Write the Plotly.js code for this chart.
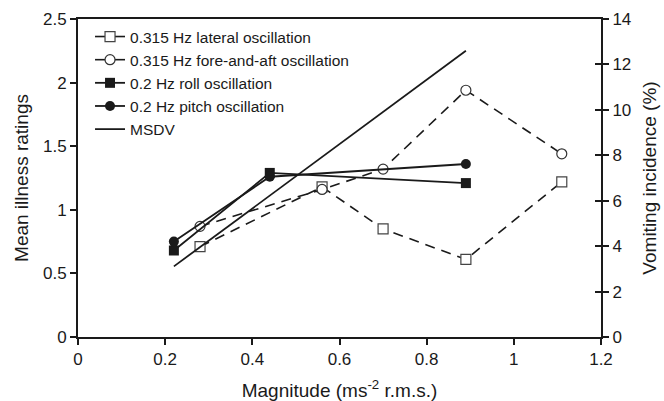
<!DOCTYPE html>
<html>
<head>
<meta charset="utf-8">
<script src="https://cdn.plot.ly/plotly-3.0.1.min.js"></script>
<style>html,body{margin:0;padding:0;background:#fff;}#chart{width:664px;height:401px;}</style>
</head>
<body>
<div id="chart"></div>
<script>
// Data
const lateralX = [0.28, 0.56, 0.70, 0.89, 1.11];
const lateralY = [0.71, 1.18, 0.85, 0.61, 1.22];
const foreAftX = [0.28, 0.56, 0.70, 0.89, 1.11];
const foreAftY = [0.87, 1.16, 1.32, 1.94, 1.44];
const rollX = [0.22, 0.44, 0.89];
const rollY = [0.68, 1.29, 1.21];
const pitchX = [0.22, 0.44, 0.89];
const pitchY = [0.75, 1.26, 1.36];
const msdvX = [0.22, 0.89];
const msdvY = [0.555, 2.25];
const seriesNames = ["0.315 Hz lateral oscillation", "0.315 Hz fore-and-aft oscillation",
  "0.2 Hz roll oscillation", "0.2 Hz pitch oscillation", "MSDV"];
const leftTicks = [0, 0.5, 1, 1.5, 2, 2.5];
const leftTickText = ["0", "0.5", "1", "1.5", "2", "2.5"];
const rightTicks = [0, 2, 4, 6, 8, 10, 12, 14];
const xTicks = [0, 0.2, 0.4, 0.6, 0.8, 1, 1.2];
const xTickText = ["0", "0.2", "0.4", "0.6", "0.8", "1", "1.2"];

const FONT = "Liberation Sans, Arial, Helvetica, sans-serif";
const INK = "#1a1a1a";
const dashPat = "10px,7px";

const traces = [
  // plotted series
  {x: lateralX, y: lateralY, mode: "lines+markers", showlegend: false,
   line: {color: INK, width: 1.6, dash: dashPat},
   marker: {symbol: "square", size: 10, color: "#fff", line: {color: "#444", width: 1.2}}},
  {x: foreAftX, y: foreAftY, mode: "lines+markers", showlegend: false,
   line: {color: INK, width: 1.6, dash: dashPat},
   marker: {symbol: "circle", size: 10, color: "#fff", line: {color: "#333", width: 1.2}}},
  {x: rollX, y: rollY, mode: "lines+markers", showlegend: false,
   line: {color: INK, width: 1.8},
   marker: {symbol: "square", size: 10, color: INK}},
  {x: pitchX, y: pitchY, mode: "lines+markers", showlegend: false,
   line: {color: INK, width: 1.8},
   marker: {symbol: "circle", size: 10, color: INK}},
  {x: msdvX, y: msdvY, mode: "lines", showlegend: false,
   line: {color: INK, width: 1.8}},
  // legend entries (solid lines as in the reference legend)
  {x: [null], y: [null], name: seriesNames[0], mode: "lines+markers",
   line: {color: INK, width: 1.6},
   marker: {symbol: "square", size: 10, color: "#fff", line: {color: "#444", width: 1.2}}},
  {x: [null], y: [null], name: seriesNames[1], mode: "lines+markers",
   line: {color: INK, width: 1.6},
   marker: {symbol: "circle", size: 10, color: "#fff", line: {color: "#333", width: 1.2}}},
  {x: [null], y: [null], name: seriesNames[2], mode: "lines+markers",
   line: {color: INK, width: 1.8}, marker: {symbol: "square", size: 10, color: INK}},
  {x: [null], y: [null], name: seriesNames[3], mode: "lines+markers",
   line: {color: INK, width: 1.8}, marker: {symbol: "circle", size: 10, color: INK}},
  {x: [null], y: [null], name: seriesNames[4], mode: "lines",
   line: {color: INK, width: 1.8}},
  // dummy traces to activate right axes
  {x: [null], y: [null], yaxis: "y2", showlegend: false, mode: "lines"},
  {x: [null], y: [null], yaxis: "y3", showlegend: false, mode: "lines"}
];

const layout = {
  width: 664, height: 401,
  margin: {l: 78, r: 63, t: 19, b: 64},
  paper_bgcolor: "#fff", plot_bgcolor: "#fff",
  font: {family: FONT, color: INK, size: 17},
  showlegend: true,
  legend: {x: 0.023, xanchor: "left", y: 0.997, yanchor: "top",
    bgcolor: "rgba(0,0,0,0)", font: {size: 15.5, family: FONT, color: INK},
    tracegroupgap: 0, itemwidth: 30},
  xaxis: {range: [0, 1.2], tickvals: xTicks, ticktext: xTickText,
    showgrid: false, zeroline: false, showline: true, linecolor: INK, linewidth: 2,
    mirror: true, ticks: "outside", ticklen: 6, tickwidth: 2, tickcolor: INK,
    tickfont: {size: 17},
    title: {text: "Magnitude (ms<sup>-2</sup> r.m.s.)", font: {size: 19}, standoff: 17}},
  yaxis: {range: [0, 2.5], tickvals: leftTicks, ticktext: leftTickText,
    showgrid: false, zeroline: false, showline: true, linecolor: INK, linewidth: 2,
    ticks: "outside", ticklen: 6, tickwidth: 2, tickcolor: INK, tickfont: {size: 17},
    title: {text: "Mean illness ratings", font: {size: 19}, standoff: 9}},
  yaxis2: {range: [0, 14], tickvals: rightTicks, overlaying: "y", side: "right",
    showgrid: false, zeroline: false, showline: true, linecolor: INK, linewidth: 2,
    ticks: "outside", ticklen: 6, tickwidth: 2, tickcolor: INK, tickfont: {size: 17},
    title: {text: "Vomiting incidence (%)", font: {size: 19}, standoff: 12}},
  yaxis3: {range: [0, 14], tickvals: rightTicks, overlaying: "y", side: "right",
    showgrid: false, zeroline: false, showline: false, showticklabels: false,
    ticks: "inside", ticklen: 6, tickwidth: 2, tickcolor: INK}
};

Plotly.newPlot("chart", traces, layout, {staticPlot: true, displayModeBar: false});
</script>
</body>
</html>
